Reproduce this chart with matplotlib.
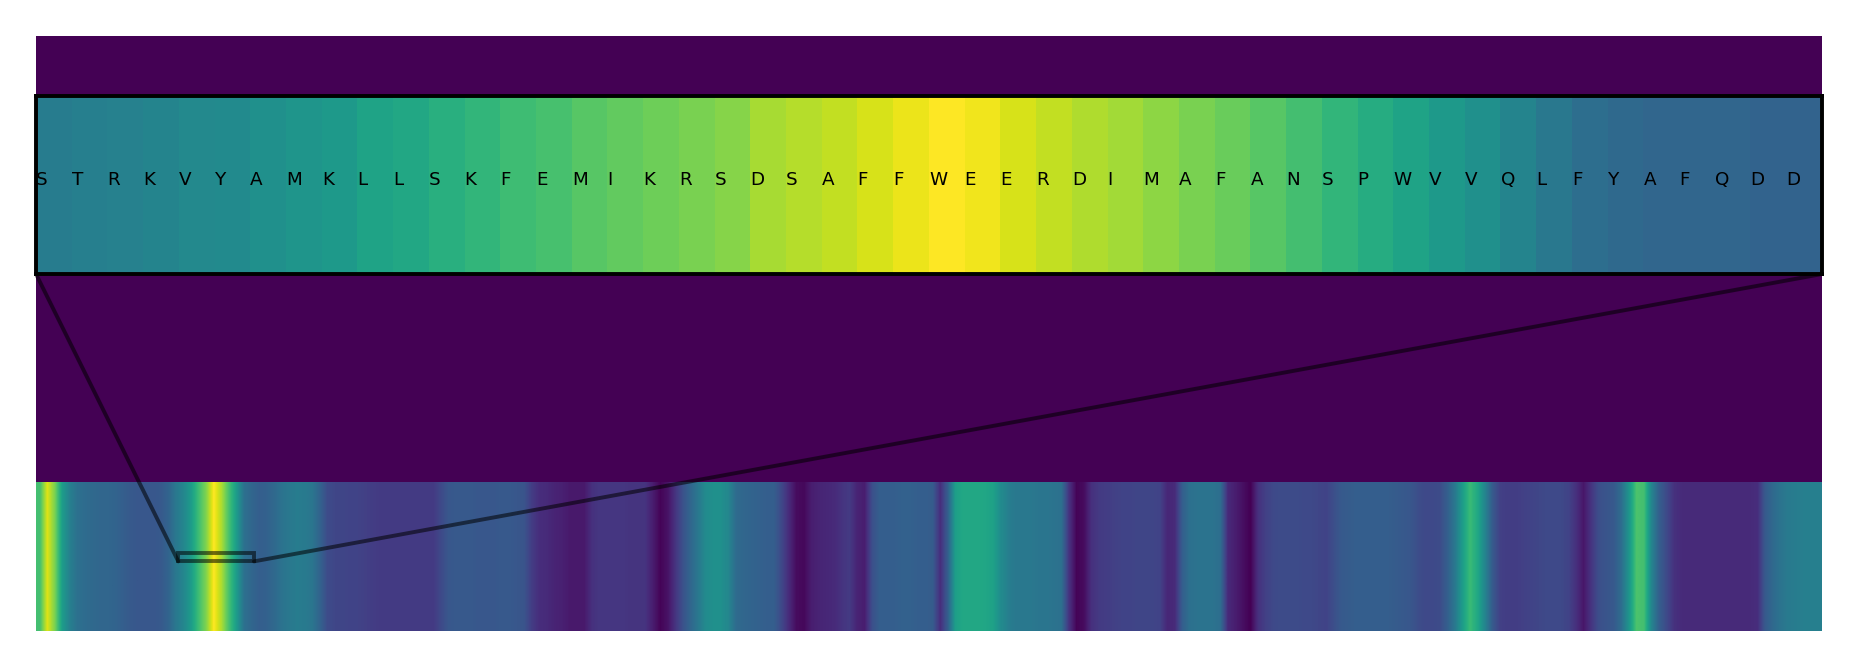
import numpy as np
import matplotlib
matplotlib.use("Agg")
import matplotlib.pyplot as plt
from matplotlib.patches import ConnectionPatch

# whole protein score, one value per 5-residue block (1180 residues)
strip_vals = [
    0.70, 0.95, 0.80, 0.55, 0.43, 0.37, 0.35, 0.34, 0.33, 0.33,
    0.32, 0.30, 0.28, 0.27, 0.27, 0.27, 0.28, 0.32, 0.40, 0.46,
    0.55, 0.69, 0.81, 1.00, 0.88, 0.71, 0.55, 0.37, 0.33, 0.30,
    0.31, 0.34, 0.38, 0.40, 0.42, 0.41, 0.39, 0.32, 0.23, 0.21,
    0.21, 0.20, 0.20, 0.19, 0.18, 0.17, 0.17, 0.17, 0.17, 0.17,
    0.17, 0.17, 0.17, 0.22, 0.27, 0.28, 0.28, 0.28, 0.27, 0.27,
    0.27, 0.28, 0.28, 0.27, 0.26, 0.18, 0.13, 0.12, 0.10, 0.09,
    0.07, 0.07, 0.07, 0.14, 0.16, 0.16, 0.16, 0.16, 0.15, 0.15,
    0.15, 0.08, 0.01, 0.05, 0.15, 0.25, 0.33, 0.40, 0.48, 0.50,
    0.50, 0.46, 0.35, 0.33, 0.32, 0.31, 0.30, 0.30, 0.22, 0.12,
    0.03, 0.02, 0.08, 0.10, 0.11, 0.12, 0.15, 0.17, 0.10, 0.08,
    0.24, 0.30, 0.30, 0.30, 0.31, 0.31, 0.30, 0.30, 0.29, 0.13,
    0.30, 0.56, 0.60, 0.60, 0.60, 0.59, 0.57, 0.48, 0.43, 0.40,
    0.40, 0.40, 0.39, 0.39, 0.38, 0.37, 0.15, 0.01, 0.03, 0.14,
    0.17, 0.18, 0.19, 0.20, 0.20, 0.21, 0.21, 0.21, 0.20, 0.11,
    0.12, 0.30, 0.37, 0.38, 0.38, 0.38, 0.36, 0.12, 0.08, 0.04,
    0.00, 0.14, 0.19, 0.22, 0.23, 0.23, 0.23, 0.22, 0.22, 0.21,
    0.20, 0.24, 0.28, 0.29, 0.30, 0.30, 0.30, 0.30, 0.30, 0.29,
    0.28, 0.27, 0.24, 0.22, 0.22, 0.23, 0.30, 0.40, 0.55, 0.68,
    0.60, 0.45, 0.28, 0.19, 0.18, 0.18, 0.19, 0.20, 0.21, 0.22,
    0.22, 0.22, 0.20, 0.14, 0.06, 0.15, 0.24, 0.26, 0.28, 0.36,
    0.52, 0.72, 0.70, 0.45, 0.30, 0.22, 0.14, 0.12, 0.12, 0.12,
    0.12, 0.12, 0.12, 0.12, 0.12, 0.12, 0.12, 0.13, 0.28, 0.34,
    0.38, 0.41, 0.42, 0.43, 0.43, 0.43,
]
seq_len = 1180

# zoomed window, residues 94-143
win_start = 94
win_letters = list("STRKVYAMKLLSKFEMIKRSDSAFFWEERDIMAFANSPWVVQLFYAFQDD")
win_vals = [
    0.42, 0.43, 0.44, 0.45, 0.47, 0.48, 0.50, 0.52, 0.54, 0.58,
    0.60, 0.63, 0.66, 0.69, 0.71, 0.74, 0.76, 0.78, 0.80, 0.82,
    0.87, 0.89, 0.91, 0.94, 0.97, 1.00, 0.98, 0.94, 0.91, 0.88,
    0.86, 0.83, 0.80, 0.77, 0.74, 0.70, 0.66, 0.62, 0.58, 0.54,
    0.50, 0.45, 0.40, 0.36, 0.34, 0.33, 0.33, 0.33, 0.32, 0.32,
]

cmap = plt.cm.viridis

fig = plt.figure(figsize=(18.57, 6.67), dpi=100)
ax = fig.add_axes([36/1857, 36/667, 1786/1857, 595/667])
ax.set_facecolor(cmap(0.0))
ax.imshow(np.array([strip_vals]), cmap=cmap, vmin=0, vmax=1, aspect='auto',
          extent=[0, seq_len, 0, 1], interpolation='bilinear',
          interpolation_stage='data')
ax.set_xlim(0, seq_len)
ax.set_ylim(0, 4)
ax.set_xticks([])
ax.set_yticks([])
for s in ax.spines.values():
    s.set_visible(False)

# inset with the sequence window
y0, y1 = 0.468, 0.525
win_end = win_start + len(win_vals)
axins = ax.inset_axes([0, 0.6, 1, 0.3])
axins.imshow(np.array([win_vals]), cmap=cmap, vmin=0, vmax=1, aspect='auto',
             extent=[win_start, win_end, y0, y1], interpolation='nearest')
axins.set_xlim(win_start, win_end)
axins.set_ylim(y0, y1)
axins.set_xticks([])
axins.set_yticks([])
for s in axins.spines.values():
    s.set_linewidth(2.8)
    s.set_color('black')
for i, aa in enumerate(win_letters):
    axins.text(win_start + i, (y0 + y1) / 2, aa, ha='left', va='baseline',
               fontsize=13.2, color='black')

# box on the strip + lines to the bottom corners of the inset
ax.indicate_inset([win_start, y0, win_end - win_start, y1 - y0],
                  edgecolor='black', alpha=0.55, linewidth=2.8)
for xd, xa in [(win_start, 0), (win_end, 1)]:
    con = ConnectionPatch(xyA=(xd, y0), coordsA=ax.transData,
                          xyB=(xa, 0), coordsB=axins.transAxes,
                          color='black', alpha=0.55, linewidth=2.8)
    fig.add_artist(con)

fig.savefig('out.png', dpi=100)
